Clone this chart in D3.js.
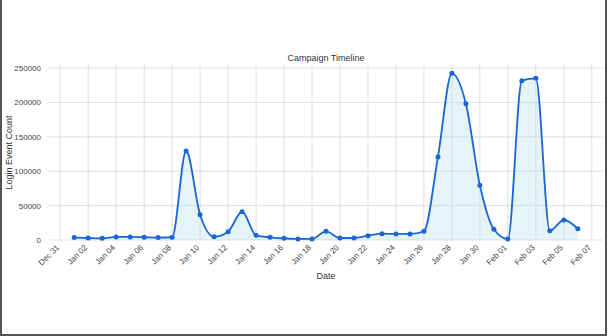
<!DOCTYPE html>
<meta charset="utf-8">
<script src="https://d3js.org/d3.v7.min.js"></script>
<style>
  body { margin: 0; background: #fff; }
  svg { font-family: "Liberation Sans", Arial, sans-serif; }
</style>
<svg id="chart" width="610" height="336"></svg>
<script>
// daily login counts, Jan 01 .. Feb 06
const dates = [
  "2024-01-01","2024-01-02","2024-01-03","2024-01-04","2024-01-05","2024-01-06",
  "2024-01-07","2024-01-08","2024-01-09","2024-01-10","2024-01-11","2024-01-12",
  "2024-01-13","2024-01-14","2024-01-15","2024-01-16","2024-01-17","2024-01-18",
  "2024-01-19","2024-01-20","2024-01-21","2024-01-22","2024-01-23","2024-01-24",
  "2024-01-25","2024-01-26","2024-01-27","2024-01-28","2024-01-29","2024-01-30",
  "2024-01-31","2024-02-01","2024-02-02","2024-02-03","2024-02-04","2024-02-05",
  "2024-02-06"
];
const counts = [
  3500, 2900, 2500, 4400, 4400, 4000,
  3500, 4000, 129400, 36800, 4800, 12100,
  41100, 6800, 3900, 2400, 1500, 1500,
  12600, 2900, 2900, 6300, 9200, 8800,
  8800, 12600, 120600, 242300, 198100, 79500,
  15500, 1500, 231600, 235000, 13500, 29100,
  16400
];
const yTicks = [0, 50000, 100000, 150000, 200000, 250000];

const svg = d3.select("#chart");
const margin = {left: 49, right: 7, top: 65, bottom: 96};
const W = 610, H = 336;

const parse = d3.utcParse("%Y-%m-%d");
const data = dates.map((d, i) => ({date: parse(d), value: counts[i]}));

const day = 86400000;
const first = data[0].date, last = data[data.length - 1].date;
const pad = (last - first) * 0.05;

const x = d3.scaleUtc()
  .domain([new Date(+first - pad), new Date(+last + pad)])
  .range([margin.left, W - margin.right]);
const y = d3.scaleLinear()
  .domain([0, d3.max(counts) * 1.05])
  .range([H - margin.bottom, margin.top]);

const xTickDates = d3.utcDay.range(new Date(+first - day), new Date(+last + 2 * day), 2);

// grid
const g = svg.append("g");
g.selectAll("line.vg").data(xTickDates).join("line")
  .attr("x1", d => x(d)).attr("x2", d => x(d))
  .attr("y1", margin.top).attr("y2", H - margin.bottom)
  .attr("stroke", "#dcdcdc").attr("stroke-width", 0.9);
g.selectAll("line.hg").data(yTicks).join("line")
  .attr("x1", margin.left).attr("x2", W - margin.right)
  .attr("y1", d => y(d)).attr("y2", d => y(d))
  .attr("stroke", "#dcdcdc").attr("stroke-width", 0.9);

// area + line
const area = d3.area().curve(d3.curveMonotoneX)
  .x(d => x(d.date)).y0(y(0)).y1(d => y(d.value));
const line = d3.line().curve(d3.curveMonotoneX)
  .x(d => x(d.date)).y(d => y(d.value));

svg.append("path").datum(data).attr("d", area)
  .attr("fill", "#add8e6").attr("fill-opacity", 0.3);
svg.append("path").datum(data).attr("d", line)
  .attr("fill", "none").attr("stroke", "#1a66d6").attr("stroke-width", 1.8);
svg.append("g").selectAll("circle").data(data).join("circle")
  .attr("cx", d => x(d.date)).attr("cy", d => y(d.value)).attr("r", 2.5)
  .attr("fill", "#1a66d6");

// axes
const fmt = d3.utcFormat("%b %d");
const xAxis = svg.append("g")
  .attr("transform", `translate(0,${H - margin.bottom})`)
  .call(d3.axisBottom(x).tickValues(xTickDates).tickFormat(fmt).tickSize(0).tickPadding(0));
xAxis.select(".domain").remove();
xAxis.selectAll("text")
  .attr("fill", "#444").attr("font-size", 8)
  .attr("text-anchor", "end")
  .attr("dy", 0)
  .attr("transform", "translate(-1,8) rotate(-45)");

const yAxis = svg.append("g")
  .attr("transform", `translate(${margin.left},0)`)
  .call(d3.axisLeft(y).tickValues(yTicks).tickFormat(d3.format("d")).tickSize(0).tickPadding(8));
yAxis.select(".domain").remove();
yAxis.selectAll("text").attr("fill", "#444").attr("font-size", 8);

// labels
svg.append("text").attr("x", (margin.left + W - margin.right) / 2).attr("y", 61)
  .attr("text-anchor", "middle").attr("font-size", 9).attr("fill", "#333")
  .text("Campaign Timeline");
svg.append("text").attr("x", (margin.left + W - margin.right) / 2).attr("y", 279)
  .attr("text-anchor", "middle").attr("font-size", 9).attr("fill", "#333")
  .text("Date");
svg.append("text")
  .attr("transform", `translate(12,${(margin.top + H - margin.bottom) / 2}) rotate(-90)`)
  .attr("text-anchor", "middle").attr("font-size", 9).attr("fill", "#333")
  .text("Login Event Count");

// frame
svg.append("path").attr("d", "M1,0V335H606V0")
  .attr("fill", "none").attr("stroke", "#555").attr("stroke-width", 2);
</script>
